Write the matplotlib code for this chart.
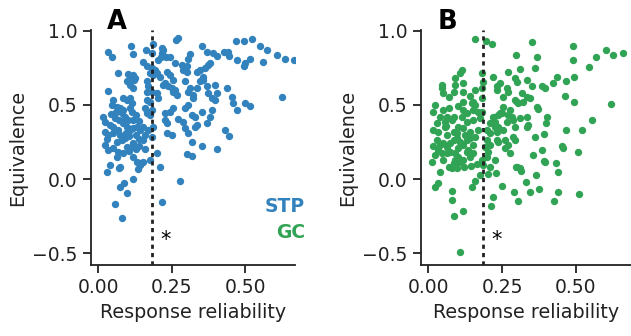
import matplotlib
matplotlib.use("Agg")
import matplotlib.pyplot as plt

# values (approximate)
stp_reliability = [
    0.273, 0.265, 0.112, 0.035, 0.047, 0.120, 0.162, 0.188, 0.222, 0.217,
    0.355, 0.370, 0.392, 0.404, 0.313, 0.307, 0.429, 0.443, 0.447, 0.469,
    0.497, 0.525, 0.551, 0.574, 0.608, 0.636, 0.667, 0.472, 0.500, 0.498,
    0.517, 0.560, 0.625, 0.205, 0.214, 0.231, 0.245, 0.262, 0.285, 0.302,
    0.302, 0.154, 0.165, 0.069, 0.103, 0.120, 0.126, 0.177, 0.188, 0.200,
    0.211, 0.234, 0.245, 0.183, 0.194, 0.336, 0.347, 0.364, 0.375, 0.358,
    0.296, 0.347, 0.358, 0.398, 0.438, 0.098, 0.109, 0.120, 0.165, 0.171,
    0.228, 0.239, 0.250, 0.262, 0.268, 0.256, 0.313, 0.307, 0.336, 0.370,
    0.375, 0.404, 0.398, 0.035, 0.200, 0.205, 0.165, 0.183, 0.324, 0.455,
    0.460, 0.472, 0.500, 0.517, 0.052, 0.047, 0.064, 0.086, 0.098, 0.109,
    0.115, 0.109, 0.086, 0.075, 0.081, 0.092, 0.103, 0.098, 0.109, 0.120,
    0.120, 0.115, 0.018, 0.024, 0.058, 0.041, 0.024, 0.035, 0.052, 0.069,
    0.075, 0.081, 0.064, 0.092, 0.024, 0.035, 0.052, 0.069, 0.086, 0.064,
    0.098, 0.115, 0.120, 0.131, 0.143, 0.154, 0.154, 0.160, 0.171, 0.183,
    0.160, 0.165, 0.177, 0.183, 0.165, 0.177, 0.188, 0.228, 0.234, 0.228,
    0.245, 0.256, 0.234, 0.250, 0.273, 0.290, 0.296, 0.307, 0.296, 0.307,
    0.319, 0.336, 0.330, 0.353, 0.370, 0.387, 0.381, 0.319, 0.353, 0.404,
    0.432, 0.447, 0.302, 0.319, 0.200, 0.120, 0.131, 0.143, 0.154, 0.177,
    0.041, 0.075, 0.211, 0.029, 0.071, 0.143, 0.137, 0.120, 0.089, 0.075,
    0.099, 0.058, 0.083, 0.279, 0.217, 0.184, 0.290, 0.381, 0.387, 0.256,
    0.222, 0.324, 0.330, 0.217, 0.113, 0.122, 0.060, 0.070, 0.085, 0.095,
    0.105, 0.130, 0.140, 0.140, 0.130, 0.050, 0.030, 0.105, 0.130, 0.045,
    0.140, 0.160,
]
stp_equivalence = [
    0.950, 0.935, 0.900, 0.860, 0.820, 0.840, 0.870, 0.910, 0.870, 0.850,
    0.900, 0.856, 0.850, 0.830, 0.840, 0.810, 0.856, 0.860, 0.833, 0.932,
    0.934, 0.946, 0.894, 0.872, 0.838, 0.810, 0.800, 0.804, 0.780, 0.760,
    0.810, 0.786, 0.550, 0.800, 0.826, 0.820, 0.820, 0.780, 0.766, 0.760,
    0.725, 0.790, 0.765, 0.714, 0.707, 0.700, 0.680, 0.714, 0.700, 0.714,
    0.690, 0.725, 0.700, 0.748, 0.736, 0.725, 0.736, 0.748, 0.770, 0.690,
    0.660, 0.660, 0.670, 0.635, 0.613, 0.660, 0.635, 0.613, 0.660, 0.624,
    0.647, 0.624, 0.613, 0.600, 0.567, 0.590, 0.613, 0.590, 0.613, 0.624,
    0.580, 0.580, 0.534, 0.595, 0.580, 0.545, 0.590, 0.590, 0.545, 0.556,
    0.510, 0.466, 0.516, 0.490, 0.534, 0.500, 0.489, 0.545, 0.534, 0.545,
    0.510, 0.478, 0.466, 0.478, 0.444, 0.420, 0.400, 0.353, 0.330, 0.343,
    0.400, 0.455, 0.420, 0.387, 0.410, 0.365, 0.320, 0.297, 0.309, 0.330,
    0.297, 0.264, 0.252, 0.275, 0.230, 0.196, 0.207, 0.184, 0.174, 0.150,
    0.218, 0.218, 0.241, 0.353, 0.330, 0.353, 0.264, 0.297, 0.330, 0.286,
    0.478, 0.444, 0.432, 0.466, 0.534, 0.522, 0.353, 0.400, 0.376, 0.444,
    0.455, 0.478, 0.309, 0.297, 0.403, 0.387, 0.343, 0.309, 0.478, 0.500,
    0.432, 0.365, 0.353, 0.455, 0.376, 0.466, 0.420, 0.252, 0.223, 0.200,
    0.330, 0.290, 0.167, 0.155, 0.178, 0.150, 0.117, 0.106, 0.117, 0.128,
    0.095, 0.083, 0.083, 0.045, 0.072, 0.095, 0.066, -0.002, -0.025, -0.052,
    -0.097, -0.171, -0.261, -0.014, -0.153, 0.850, 0.736, 0.780, 0.545, 0.670,
    0.635, 0.567, 0.420, 0.883, 0.690, 0.665, 0.450, 0.400, 0.380, 0.310,
    0.290, 0.300, 0.270, 0.390, 0.430, 0.350, 0.270, 0.190, 0.200, 0.440,
    0.220, 0.200,
]

gc_reliability = [
    0.159, 0.196, 0.215, 0.352, 0.491, 0.600, 0.626, 0.660, 0.568, 0.544,
    0.491, 0.493, 0.296, 0.367, 0.361, 0.311, 0.271, 0.114, 0.108, 0.091,
    0.119, 0.091, 0.119, 0.086, 0.046, 0.052, 0.046, 0.181, 0.187, 0.181,
    0.181, 0.221, 0.243, 0.232, 0.232, 0.266, 0.271, 0.294, 0.300, 0.333,
    0.350, 0.384, 0.395, 0.435, 0.423, 0.465, 0.463, 0.493, 0.617, 0.316,
    0.333, 0.345, 0.322, 0.300, 0.305, 0.277, 0.254, 0.243, 0.271, 0.288,
    0.311, 0.333, 0.339, 0.333, 0.367, 0.373, 0.401, 0.399, 0.553, 0.519,
    0.465, 0.361, 0.392, 0.384, 0.356, 0.395, 0.432, 0.457, 0.508, 0.452,
    0.024, 0.018, 0.052, 0.069, 0.063, 0.041, 0.057, 0.018, 0.035, 0.057,
    0.080, 0.086, 0.086, 0.097, 0.119, 0.119, 0.114, 0.131, 0.148, 0.153,
    0.153, 0.131, 0.119, 0.153, 0.159, 0.170, 0.176, 0.181, 0.170, 0.198,
    0.209, 0.226, 0.238, 0.232, 0.254, 0.221, 0.238, 0.249, 0.209, 0.226,
    0.288, 0.294, 0.271, 0.238, 0.260, 0.277, 0.198, 0.193, 0.204, 0.209,
    0.029, 0.041, 0.052, 0.063, 0.035, 0.024, 0.012, 0.046, 0.063, 0.074,
    0.086, 0.097, 0.108, 0.102, 0.091, 0.102, 0.119, 0.131, 0.142, 0.153,
    0.136, 0.153, 0.142, 0.119, 0.108, 0.086, 0.069, 0.080, 0.097, 0.198,
    0.209, 0.300, 0.311, 0.187, 0.181, 0.041, 0.024, 0.035, 0.080, 0.080,
    0.086, 0.119, 0.108, 0.148, 0.159, 0.176, 0.204, 0.230, 0.218, 0.213,
    0.249, 0.292, 0.303, 0.330, 0.345, 0.364, 0.375, 0.296, 0.314, 0.392,
    0.440, 0.440, 0.426, 0.510, 0.254, 0.294, 0.282, 0.266, 0.294, 0.232,
    0.260, 0.226, 0.125, 0.140, 0.065, 0.075, 0.130, 0.160, 0.015, 0.050,
    0.090, 0.120, 0.145, 0.165, 0.060, 0.100, 0.100, 0.140, 0.160, 0.070,
    0.030,
]
gc_equivalence = [
    0.946, 0.928, 0.912, 0.921, 0.894, 0.872, 0.838, 0.849, 0.822, 0.755,
    0.804, 0.687, 0.838, 0.822, 0.748, 0.741, 0.721, 0.736, 0.714, 0.680,
    0.647, 0.635, 0.590, 0.590, 0.613, 0.580, 0.635, 0.714, 0.657, 0.613,
    0.545, 0.691, 0.647, 0.624, 0.600, 0.613, 0.590, 0.680, 0.657, 0.670,
    0.624, 0.624, 0.613, 0.691, 0.647, 0.664, 0.561, 0.522, 0.507, 0.580,
    0.556, 0.545, 0.522, 0.522, 0.510, 0.466, 0.489, 0.444, 0.432, 0.400,
    0.410, 0.420, 0.365, 0.353, 0.489, 0.470, 0.420, 0.380, 0.400, 0.330,
    0.330, 0.282, 0.304, 0.196, 0.162, 0.117, 0.106, 0.207, 0.180, 0.223,
    0.500, 0.455, 0.466, 0.478, 0.420, 0.420, 0.387, 0.330, 0.320, 0.353,
    0.400, 0.420, 0.320, 0.309, 0.522, 0.466, 0.420, 0.444, 0.510, 0.466,
    0.400, 0.387, 0.343, 0.522, 0.500, 0.455, 0.410, 0.455, 0.330, 0.330,
    0.309, 0.353, 0.353, 0.320, 0.330, 0.420, 0.432, 0.444, 0.376, 0.387,
    0.286, 0.264, 0.230, 0.252, 0.207, 0.174, 0.264, 0.218, 0.184, 0.230,
    0.264, 0.230, 0.241, 0.218, 0.196, 0.162, 0.117, 0.174, 0.174, 0.184,
    0.264, 0.275, 0.252, 0.207, 0.174, 0.150, 0.230, 0.264, 0.275, 0.230,
    0.196, 0.174, 0.150, 0.128, 0.117, 0.106, 0.083, 0.072, 0.072, 0.150,
    0.083, 0.083, 0.072, 0.095, 0.128, 0.050, -0.052, -0.025, -0.079, -0.142,
    -0.250, -0.216, -0.495, -0.052, -0.012, 0.027, 0.032, 0.038, -0.120, -0.182,
    -0.045, -0.090, -0.147, -0.018, -0.086, 0.027, -0.070, 0.079, 0.056, 0.124,
    0.045, -0.086, -0.147, -0.103, 0.556, 0.534, 0.420, 0.387, 0.353, 0.264,
    0.264, 0.128, 0.300, 0.320, 0.300, 0.240, 0.180, 0.280, 0.220, 0.130,
    0.130, 0.080, 0.090, 0.100, 0.360, 0.350, 0.490, 0.560, 0.600, 0.550,
    0.380,
]

threshold = 0.185
panels = ["A", "B"]
series_names = ["STP", "GC"]
colors = ["#3182bd", "#31a354"]

plt.rcParams['font.family'] = 'DejaVu Sans'
plt.rcParams['axes.linewidth'] = 1.3
plt.rcParams['xtick.major.width'] = 1.3
plt.rcParams['ytick.major.width'] = 1.3
plt.rcParams['xtick.major.size'] = 6
plt.rcParams['ytick.major.size'] = 6

fig = plt.figure(figsize=(6.31, 3.36), dpi=100)
ax_a = fig.add_axes([0.1442, 0.2113, 0.3233, 0.6994])
ax_b = fig.add_axes([0.6672, 0.2113, 0.3328, 0.6994])

data = [(stp_reliability, stp_equivalence), (gc_reliability, gc_equivalence)]
xlims = [(-0.024, 0.67), (-0.024, 0.686)]

for i, ax in enumerate([ax_a, ax_b]):
    x, y = data[i]
    ax.scatter(x, y, s=28, color=colors[i], linewidths=0, zorder=2)
    ax.axvline(threshold, color='#222222', lw=2, linestyle=(0, (1.5, 1.5)), zorder=3)
    ax.text(threshold + 0.045, -0.41, "*", fontsize=15, ha='center', va='center')
    ax.set_xlim(*xlims[i])
    ax.set_ylim(-0.58, 1.005)
    ax.set_xticks([0.0, 0.25, 0.5])
    ax.set_xticklabels(["0.00", "0.25", "0.50"])
    ax.set_yticks([-0.5, 0.0, 0.5, 1.0])
    ax.set_yticklabels(["\u22120.5", "0.0", "0.5", "1.0"])
    ax.tick_params(labelsize=13.5, colors='#222222')
    ax.set_xlabel("Response reliability", fontsize=13.8, color='#222222')
    ax.set_ylabel("Equivalence", fontsize=13.8, color='#222222')
    for side in ['top', 'right']:
        ax.spines[side].set_visible(False)
    for side in ['left', 'bottom']:
        ax.spines[side].set_color('#222222')
    ax.text(0.08, 1.035, panels[i], transform=ax.transAxes, fontsize=18.5,
            fontweight='bold', ha='left', va='center')

# legend-like labels in panel A
ax_a.text(1.05, 0.247, series_names[0], transform=ax_a.transAxes, color=colors[0],
          fontsize=13.5, fontweight='bold', ha='right', va='center')
ax_a.text(1.05, 0.14, series_names[1], transform=ax_a.transAxes, color=colors[1],
          fontsize=13.5, fontweight='bold', ha='right', va='center')

fig.savefig("out.png", dpi=100)
